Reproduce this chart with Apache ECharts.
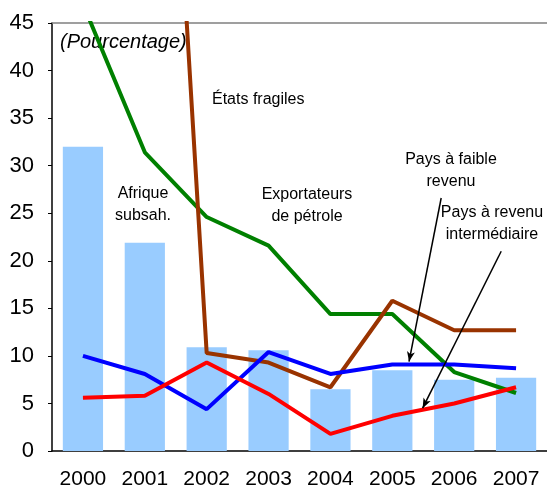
<!DOCTYPE html>
<html>
<head>
<meta charset="utf-8">
<script src="https://cdn.jsdelivr.net/npm/echarts@6/dist/echarts.min.js"></script>
<style>
  html, body { margin: 0; padding: 0; background: #fff; }
  #chart { width: 547px; height: 491px; }
</style>
</head>
<body>
<div id="chart"></div>
<script>
const years = ['2000', '2001', '2002', '2003', '2004', '2005', '2006', '2007']
const yTicks = { min: 0, max: 45, interval: 5 }

// Afrique subsah. (bars)
const afrique = [32.0, 21.9, 10.9, 10.6, 6.5, 8.5, 7.5, 7.7]
// Exportateurs de pétrole
const exportateurs = [47.0, 31.4, 24.6, 21.6, 14.4, 14.4, 8.3, 6.1]
// États fragiles (2001 is far above the axis)
const fragiles = [null, 118, 10.3, 9.3, 6.7, 15.8, 12.7, 12.7]
// Pays à faible revenu
const faible = [10.0, 8.1, 4.4, 10.4, 8.1, 9.1, 9.1, 8.7]
// Pays à revenu intermédiaire
const intermediaire = [5.6, 5.8, 9.3, 6.0, 1.8, 3.7, 5.0, 6.7]

// annotation arrows: [x as category position, y value] from tail to head
const arrowFaible = [[5.79, 26.6], [5.27, 9.4]]
const arrowInter = [[6.76, 21.0], [5.49, 4.5]]

const font = 'Liberation Sans, Arial, sans-serif'

const chart = echarts.init(document.getElementById('chart'))

const lineSeries = (name, data, color) => ({
  name: name,
  type: 'line',
  data: data,
  symbol: 'none',
  connectNulls: false,
  clip: true,
  lineStyle: { color: color, width: 4 },
  z: 3
})

const label = (text, x, y, align) => ({
  type: 'text',
  x: x,
  y: y,
  style: {
    text: text,
    font: '16px ' + font,
    fill: '#000',
    align: align || 'center',
    verticalAlign: 'middle',
    lineHeight: 22
  }
})

const option = {
  animation: false,
  grid: { left: 52, top: 23, right: 0, bottom: 40 },
  xAxis: [
    {
      type: 'category',
      data: years,
      boundaryGap: true,
      axisLine: { onZero: false, lineStyle: { color: '#000', width: 1.5 } },
      axisTick: { inside: true, length: 6, interval: 0, lineStyle: { color: '#000' } },
      axisLabel: { color: '#000', fontSize: 21, fontFamily: font, margin: 18, interval: 0, hideOverlap: false }
    },
    {
      type: 'value',
      position: 'top',
      min: -0.5,
      max: 7.5,
      axisLine: { show: true, onZero: false, lineStyle: { color: '#808080', width: 1.5 } },
      axisTick: { show: false },
      axisLabel: { show: false },
      splitLine: { show: false }
    }
  ],
  yAxis: {
    type: 'value',
    min: yTicks.min,
    max: yTicks.max,
    interval: yTicks.interval,
    axisLine: { show: true, onZero: false, lineStyle: { color: '#000', width: 1.5 } },
    axisTick: { show: true, length: 4, lineStyle: { color: '#000' } },
    axisLabel: { color: '#000', fontSize: 22, fontFamily: font, margin: 18 },
    splitLine: { show: false }
  },
  series: [
    {
      name: 'Afrique subsah.',
      type: 'bar',
      data: afrique,
      barWidth: '65%',
      itemStyle: { color: '#99CCFF' },
      z: 1
    },
    lineSeries('Exportateurs de pétrole', exportateurs, '#008000'),
    lineSeries('États fragiles', fragiles, '#993300'),
    lineSeries('Pays à faible revenu', faible, '#0000FF'),
    lineSeries('Pays à revenu intermédiaire', intermediaire, '#FF0000'),
    {
      name: 'flèches',
      type: 'line',
      xAxisIndex: 1,
      data: [],
      silent: true,
      markLine: {
        silent: true,
        symbol: ['none', 'arrow'],
        symbolSize: [6, 10],
        label: { show: false },
        lineStyle: { color: '#000', width: 1.5, type: 'solid' },
        data: [
          [{ coord: arrowFaible[0] }, { coord: arrowFaible[1] }],
          [{ coord: arrowInter[0] }, { coord: arrowInter[1] }]
        ]
      },
      z: 5
    }
  ],
  graphic: [
    {
      type: 'text',
      x: 60,
      y: 42,
      style: {
        text: '(Pourcentage)',
        font: 'italic 20px ' + font,
        fill: '#000',
        align: 'left',
        verticalAlign: 'middle'
      }
    },
    label('États fragiles', 212, 100, 'left'),
    label('Afrique\nsubsah.', 143, 205),
    label('Exportateurs\nde pétrole', 307, 206),
    label('Pays à faible\nrevenu', 451, 171),
    label('Pays à revenu\nintermédiaire', 492, 224)
  ]
}

chart.setOption(option)
</script>
</body>
</html>
